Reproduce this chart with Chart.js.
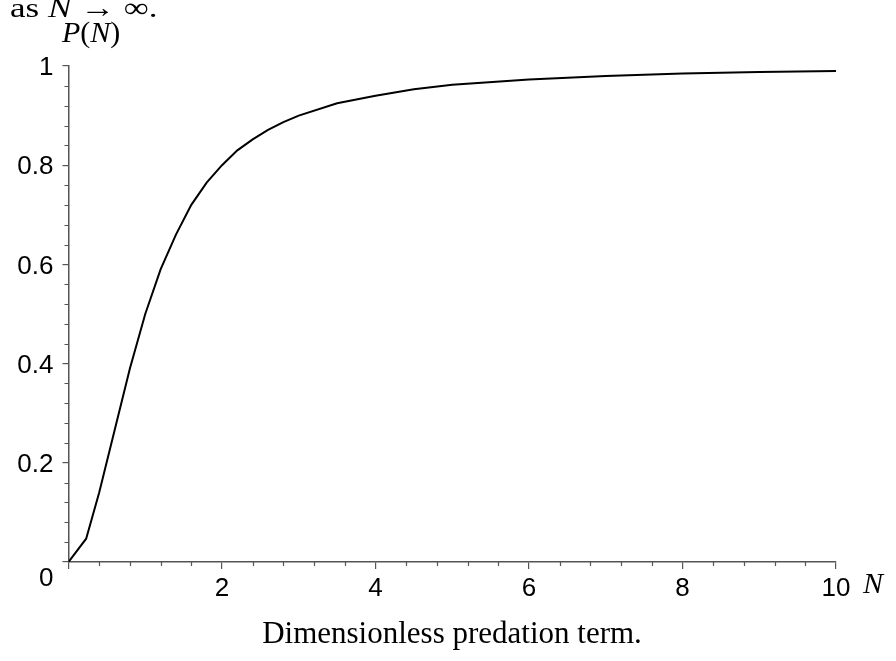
<!DOCTYPE html>
<html>
<head>
<meta charset="utf-8">
<script src="https://cdn.jsdelivr.net/npm/chart.js@4.4.1/dist/chart.umd.min.js"></script>
<style>
    html, body { margin: 0; padding: 0; background: #fff; }
    #wrap { width: 896px; height: 661px; position: relative; }
</style>
</head>
<body>
<div id="wrap"><canvas id="chart"></canvas></div>
<script>
// values
const nValues = [0, 0.23, 0.4, 0.6, 0.8, 1.0, 1.2, 1.4, 1.6, 1.8, 2.0, 2.2, 2.4, 2.6, 2.8, 3.0, 3.5, 4.0, 4.5, 5, 6, 7, 8, 9, 10];
const pValues = [0, 0.047, 0.14, 0.265, 0.39, 0.50, 0.59, 0.66, 0.72, 0.765, 0.80, 0.83, 0.852, 0.871, 0.887, 0.90, 0.925, 0.94, 0.953, 0.962, 0.973, 0.98, 0.985, 0.988, 0.99];
const xLabels = [2, 4, 6, 8, 10];
const yLabels = [0.2, 0.4, 0.6, 0.8, 1];
const xMinorStep = 0.4;
const yMinorStep = 0.04;

const serif = '"Liberation Serif", "DejaVu Serif", serif';
const sans = '"Liberation Sans", Arial, sans-serif';
const axisGrey = '#555';

function isLabel(v, list) {
    return list.some(l => Math.abs(l - v) < 1e-6);
}

// draw a run of [text, italic] pieces, stretched sideways by sx
function drawPieces(c, pieces, x, y, size, sx) {
    c.save();
    c.translate(x, y);
    c.scale(sx, 1);
    let cx = 0;
    pieces.forEach(([t, it]) => {
        c.font = (it ? 'italic ' : '') + size + 'px ' + serif;
        c.fillText(t, cx, 0);
        cx += c.measureText(t).width;
    });
    c.restore();
}

// minor ticks + extra texts
const extrasPlugin = {
    id: 'extras',
    afterDraw(chart) {
        const c = chart.ctx;
        const xs = chart.scales.x, ys = chart.scales.y;
        c.save();

        // minor ticks, outward
        c.strokeStyle = axisGrey;
        c.lineWidth = 1.2;
        c.beginPath();
        for (let i = 1; i * xMinorStep < xs.max + 1e-9; i++) {
            const v = i * xMinorStep;
            if (isLabel(v, xLabels)) continue;
            const px = Math.round(xs.getPixelForValue(v)) + 0.5;
            c.moveTo(px, ys.bottom);
            c.lineTo(px, ys.bottom + 4);
        }
        for (let i = 1; i * yMinorStep < ys.max + 1e-9; i++) {
            const v = i * yMinorStep;
            if (isLabel(v, yLabels)) continue;
            const py = Math.round(ys.getPixelForValue(v)) + 0.5;
            c.moveTo(xs.left, py);
            c.lineTo(xs.left - 4, py);
        }
        c.stroke();

        c.fillStyle = '#000';
        c.textBaseline = 'alphabetic';
        c.textAlign = 'left';

        // "as N → ∞." cut off at the top
        drawPieces(c, [['as ', false], ['N', true], [' \u2192 \u221E.', false]], 10, 17, 28, 1.25);

        // y axis name
        drawPieces(c, [['P', true], ['(', false], ['N', true], [')', false]], 62, 42, 30, 1.0);

        // x axis name
        drawPieces(c, [['N', true]], xs.right + 27, ys.bottom + 31, 30, 1.0);

        // origin label
        c.font = '26px ' + sans;
        c.textAlign = 'right';
        c.fillText('0', xs.left - 15, ys.bottom + 24);

        // caption
        c.font = '31px ' + serif;
        c.textAlign = 'center';
        c.fillText('Dimensionless predation term.', 452, 643);

        c.restore();
    }
};

const ctx = document.getElementById('chart').getContext('2d');
new Chart(ctx, {
    type: 'line',
    data: {
        datasets: [{
            data: nValues.map((n, i) => ({ x: n, y: pValues[i] })),
            borderColor: '#000',
            borderWidth: 2,
            pointRadius: 0,
            tension: 0,
            fill: false
        }]
    },
    options: {
        responsive: true,
        maintainAspectRatio: false,
        animation: false,
        devicePixelRatio: 1,
        layout: { padding: { top: 66, right: 60, bottom: 59, left: 0 } },
        plugins: { legend: { display: false }, tooltip: { enabled: false } },
        scales: {
            x: {
                type: 'linear',
                min: 0, max: 10,
                afterFit: s => { s.height = 40; },
                border: { display: true, color: axisGrey, width: 1.5 },
                grid: { drawOnChartArea: false, tickLength: 7, color: axisGrey, lineWidth: 1.2 },
                ticks: {
                    stepSize: 2,
                    autoSkip: false,
                    maxRotation: 0,
                    padding: 4,
                    color: '#000',
                    font: { family: sans, size: 26 },
                    callback: v => isLabel(v, xLabels) ? String(v) : ''
                }
            },
            y: {
                min: 0, max: 1,
                afterFit: s => { s.width = 68.5; },
                border: { display: true, color: axisGrey, width: 1.5 },
                grid: { drawOnChartArea: false, tickLength: 6, color: axisGrey, lineWidth: 1.2 },
                ticks: {
                    stepSize: 0.2,
                    autoSkip: false,
                    padding: 9,
                    labelOffset: 2,
                    color: '#000',
                    font: { family: sans, size: 26 },
                    callback: v => isLabel(v, yLabels) ? String(Math.round(v * 10) / 10) : ''
                }
            }
        }
    },
    plugins: [extrasPlugin]
});
</script>
</body>
</html>
